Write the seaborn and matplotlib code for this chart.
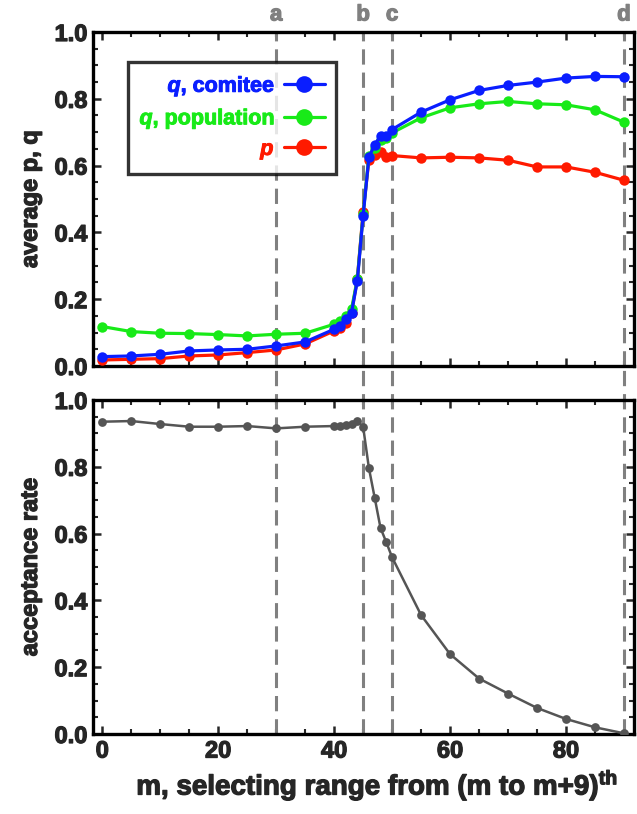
import matplotlib
matplotlib.use("Agg")
import matplotlib.pyplot as plt
import matplotlib.patheffects as pe
from matplotlib.ticker import MultipleLocator, FormatStrFormatter
import seaborn as sns

# ================= DATA =================
m_values = [0, 5, 10, 15, 20, 25, 30, 35, 40, 41, 42, 43, 44, 45, 46, 47, 48, 49,
            50, 55, 60, 65, 70, 75, 80, 85, 90]

q_comitee = [0.028, 0.030, 0.035, 0.045, 0.048, 0.050, 0.060, 0.072, 0.110, 0.120,
             0.140, 0.160, 0.255, 0.450, 0.625, 0.663, 0.688, 0.690, 0.708, 0.760,
             0.797, 0.825, 0.840, 0.850, 0.862, 0.867, 0.866]
q_population = [0.118, 0.103, 0.098, 0.097, 0.094, 0.090, 0.095, 0.098, 0.125, 0.135,
                0.150, 0.170, 0.260, 0.455, 0.630, 0.653, 0.678, 0.683, 0.698, 0.743,
                0.773, 0.785, 0.792, 0.785, 0.782, 0.767, 0.730]
p_values = [0.018, 0.020, 0.022, 0.030, 0.033, 0.040, 0.048, 0.066, 0.105, 0.115,
            0.130, 0.160, 0.260, 0.460, 0.618, 0.633, 0.640, 0.625, 0.630, 0.623,
            0.625, 0.623, 0.616, 0.596, 0.596, 0.580, 0.556]

acceptance = [0.935, 0.937, 0.928, 0.920, 0.920, 0.922, 0.915, 0.920, 0.922, 0.923,
              0.925, 0.928, 0.937, 0.920, 0.796, 0.707, 0.617, 0.574, 0.529, 0.356,
              0.239, 0.166, 0.121, 0.078, 0.045, 0.020, 0.002]

marker_positions = [30, 45, 50, 90]
marker_names = ["a", "b", "c", "d"]

# ================= STYLE =================
sns.set_style("ticks")
plt.rcParams["font.family"] = ["Liberation Sans", "DejaVu Sans"]
plt.rcParams["font.weight"] = "bold"
plt.rcParams["mathtext.fontset"] = "custom"
plt.rcParams["mathtext.it"] = "Liberation Sans:italic:bold"
plt.rcParams["mathtext.rm"] = "Liberation Sans:bold"
plt.rcParams["mathtext.bf"] = "Liberation Sans:bold"

BLUE = "#0a1eff"
GREEN = "#18ea18"
RED = "#ff1a00"
GRAY = "#555555"
DASH = "#808080"


def heavy(txt, width=0.9):
    # thicken the glyphs a little, the reference text is very heavy
    txt.set_path_effects([pe.withStroke(linewidth=width, foreground=txt.get_color())])


fig = plt.figure(figsize=(6.37, 8.14), dpi=100)
ax_top = fig.add_axes([0.146, 0.5504, 0.849, 0.4103])
ax_bot = fig.add_axes([0.146, 0.0983, 0.849, 0.4103])

# ================= TOP PANEL =================
series = [
    (q_comitee, BLUE, "$q$, comitee"),
    (q_population, GREEN, "$q$, population"),
    (p_values, RED, "$p$"),
]
for vals, col, lab in series[::-1]:
    sns.lineplot(x=m_values, y=vals, ax=ax_top, color=col, linewidth=2.3,
                 marker="o", markersize=7.5, markeredgewidth=0, label=lab,
                 zorder=3)

handles, labels = ax_top.get_legend_handles_labels()
leg = ax_top.legend(handles[::-1], labels[::-1], loc="upper left",
                    bbox_to_anchor=(0.064, 0.91), markerfirst=False,
                    fontsize=15.5, frameon=True, fancybox=False,
                    edgecolor="black", handlelength=1.9, markerscale=1.6,
                    borderpad=0.55, labelspacing=0.35, handletextpad=0.4,
                    borderaxespad=0)
leg.get_frame().set_linewidth(2.4)
for txt, (_, col, _) in zip(leg.get_texts(), series):
    txt.set_color(col)
    txt.set_ha("right")
    heavy(txt, 0.7)
leg._legend_box.align = "right"

# ================= BOTTOM PANEL =================
sns.lineplot(x=m_values, y=acceptance, ax=ax_bot, color=GRAY, linewidth=1.8,
             marker="o", markersize=6.3, markeredgewidth=0, zorder=3)

# ================= DASHED MARKERS =================
for xpos, name in zip(marker_positions, marker_names):
    ax_top.axvline(xpos, ymin=0, ymax=1.0, color=DASH, linewidth=2.2,
                   dashes=(5, 2.6), zorder=1)
    ax_bot.axvline(xpos, ymin=0, ymax=1.1, color=DASH, linewidth=2.2,
                   dashes=(5, 2.6), clip_on=False, zorder=1)
    t = ax_top.text(xpos, 1.051, name, transform=ax_top.get_xaxis_transform(),
                    ha="center", va="center", color=DASH, fontsize=16,
                    fontweight="bold")
    heavy(t)

# ================= AXES FORMAT =================
for ax in (ax_top, ax_bot):
    ax.set_xlim(-1.6, 91.7)
    ax.set_ylim(0, 1.0)
    ax.xaxis.set_major_locator(MultipleLocator(20))
    ax.xaxis.set_minor_locator(MultipleLocator(5))
    ax.yaxis.set_major_locator(MultipleLocator(0.2))
    ax.yaxis.set_minor_locator(MultipleLocator(0.05))
    ax.yaxis.set_major_formatter(FormatStrFormatter("%.1f"))
    ax.tick_params(which="both", direction="in", top=True, right=True,
                   labelsize=17, width=1.8, pad=4)
    ax.tick_params(which="major", length=6)
    ax.tick_params(which="minor", length=3.5, width=1.5)
    for sp in ax.spines.values():
        sp.set_linewidth(2.4)
        sp.set_color("black")

ax_top.tick_params(labelbottom=False)
ax_top.set_xlabel("")
ax_top.set_ylabel("average p, q", fontsize=17, fontweight="bold", labelpad=9)
ax_bot.set_ylabel("acceptance rate", fontsize=17, fontweight="bold", labelpad=9)
ax_bot.set_xlabel("m, selecting range from (m to m+9)$^{\\rm th}$", fontsize=20,
                  fontweight="bold", labelpad=4)
ax_bot.xaxis.label.set_x(0.525)
fig.align_ylabels([ax_top, ax_bot])

fig.canvas.draw()
for ax in (ax_top, ax_bot):
    for lab in ax.get_xticklabels() + ax.get_yticklabels():
        heavy(lab)
    heavy(ax.yaxis.label)
    heavy(ax.xaxis.label)

fig.savefig("out.png", dpi=100)
